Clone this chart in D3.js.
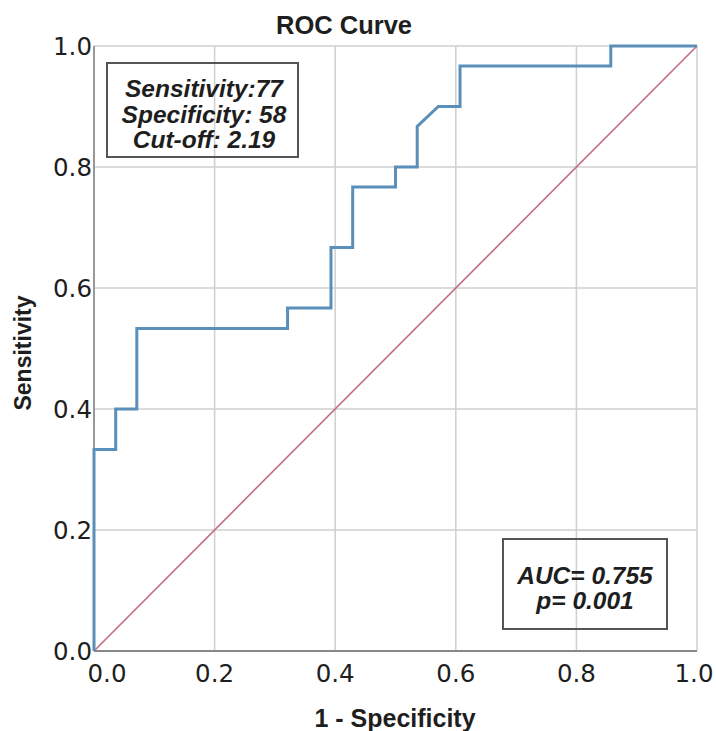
<!DOCTYPE html>
<html lang="en">
<head>
<meta charset="UTF-8">
<title>ROC Curve</title>
<script src="https://d3js.org/d3.v7.min.js"></script>
<style>
    body { margin: 0; background: #fff; }
    svg { display: block; }
    .tick-label { font-family: "DejaVu Sans", sans-serif; font-size: 24.5px; fill: #1e1e1e; }
    .axis-title { font-family: "Liberation Sans", Arial, sans-serif; font-weight: bold; fill: #1e1e1e; }
    .note { font-family: "Liberation Sans", Arial, sans-serif; font-weight: bold; font-style: italic; font-size: 24.5px; fill: #1e1e1e; }
</style>
</head>
<body>
<svg id="chart"></svg>
<script>
    // ROC curve points (1 - specificity, sensitivity)
    const fpr = [0, 0, 0.036, 0.036, 0.071, 0.071, 0.321, 0.321, 0.393, 0.393, 0.429, 0.429,
                 0.5, 0.5, 0.536, 0.536, 0.571, 0.607, 0.607, 0.857, 0.857, 1];
    const tpr = [0, 0.333, 0.333, 0.4, 0.4, 0.533, 0.533, 0.567, 0.567, 0.667, 0.667, 0.767,
                 0.767, 0.8, 0.8, 0.867, 0.9, 0.9, 0.967, 0.967, 1, 1];
    const ticks = [0, 0.2, 0.4, 0.6, 0.8, 1.0];
    const tickLabels = ["0.0", "0.2", "0.4", "0.6", "0.8", "1.0"];
    const statsLines = ["Sensitivity:77", "Specificity: 58", "Cut-off: 2.19"];
    const aucLines = ["AUC= 0.755", "p= 0.001"];

    const width = 716, height = 731;
    const svg = d3.select("#chart").attr("width", width).attr("height", height);

    const x = d3.scaleLinear().domain([0, 1]).range([94, 697]);
    const y = d3.scaleLinear().domain([0, 1]).range([651, 46]);

    // grid
    svg.append("g").selectAll("line")
        .data(ticks.slice(1))
        .join("line")
        .attr("x1", d => x(d)).attr("x2", d => x(d))
        .attr("y1", y(0)).attr("y2", y(1))
        .attr("stroke", "#cfcfcf").attr("stroke-width", 1.5);
    svg.append("g").selectAll("line")
        .data(ticks.slice(1))
        .join("line")
        .attr("x1", x(0)).attr("x2", x(1))
        .attr("y1", d => y(d)).attr("y2", d => y(d))
        .attr("stroke", "#cfcfcf").attr("stroke-width", 1.5);

    // axes lines
    svg.append("line").attr("x1", x(0)).attr("x2", x(0)).attr("y1", y(0)).attr("y2", y(1))
        .attr("stroke", "#999").attr("stroke-width", 2);
    svg.append("line").attr("x1", x(0)).attr("x2", x(1)).attr("y1", y(0)).attr("y2", y(0))
        .attr("stroke", "#888").attr("stroke-width", 2);

    // tick labels
    svg.append("g").selectAll("text")
        .data(ticks)
        .join("text")
        .attr("class", "tick-label")
        .attr("x", 92)
        .attr("y", d => y(d))
        .attr("dy", "0.36em")
        .attr("text-anchor", "end")
        .text((d, i) => tickLabels[i]);
    svg.append("g").selectAll("text")
        .data(ticks)
        .join("text")
        .attr("class", "tick-label")
        .attr("x", (d, i) => x(d) + (i === 0 ? 13 : i === ticks.length - 1 ? -3 : 0))
        .attr("y", 682)
        .attr("text-anchor", "middle")
        .text((d, i) => tickLabels[i]);

    // reference diagonal
    svg.append("line")
        .attr("x1", x(0)).attr("y1", y(0)).attr("x2", x(1)).attr("y2", y(1))
        .attr("stroke", "#c46b7e").attr("stroke-width", 1.6);

    // ROC curve
    const pts = fpr.map((v, i) => [v, tpr[i]]);
    svg.append("path")
        .datum(pts)
        .attr("fill", "none")
        .attr("stroke", "#5a8fb9")
        .attr("stroke-width", 3)
        .attr("stroke-linejoin", "miter")
        .attr("d", d3.line().x(d => x(d[0])).y(d => y(d[1])));

    // titles
    svg.append("text").attr("class", "axis-title")
        .attr("x", 344).attr("y", 34).attr("text-anchor", "middle")
        .style("font-size", "25.5px").text("ROC Curve");
    svg.append("text").attr("class", "axis-title")
        .attr("x", 395).attr("y", 727).attr("text-anchor", "middle")
        .style("font-size", "25px").text("1 - Specificity");
    svg.append("text").attr("class", "axis-title")
        .attr("transform", "translate(31,353) rotate(-90)")
        .attr("text-anchor", "middle")
        .style("font-size", "23px").text("Sensitivity");

    // annotation boxes
    function noteBox(x0, y0, w, h, lines, cx, baseline, step) {
        svg.append("rect")
            .attr("x", x0).attr("y", y0).attr("width", w).attr("height", h)
            .attr("fill", "none").attr("stroke", "#555").attr("stroke-width", 2);
        svg.append("g").selectAll("text")
            .data(lines)
            .join("text")
            .attr("class", "note")
            .attr("x", cx)
            .attr("y", (d, i) => baseline + i * step)
            .attr("text-anchor", "middle")
            .text(d => d);
    }
    noteBox(107, 63, 191, 94, statsLines, 204, 97, 25.5);
    noteBox(503, 539, 164, 90, aucLines, 585, 584, 24.5);
</script>
</body>
</html>
